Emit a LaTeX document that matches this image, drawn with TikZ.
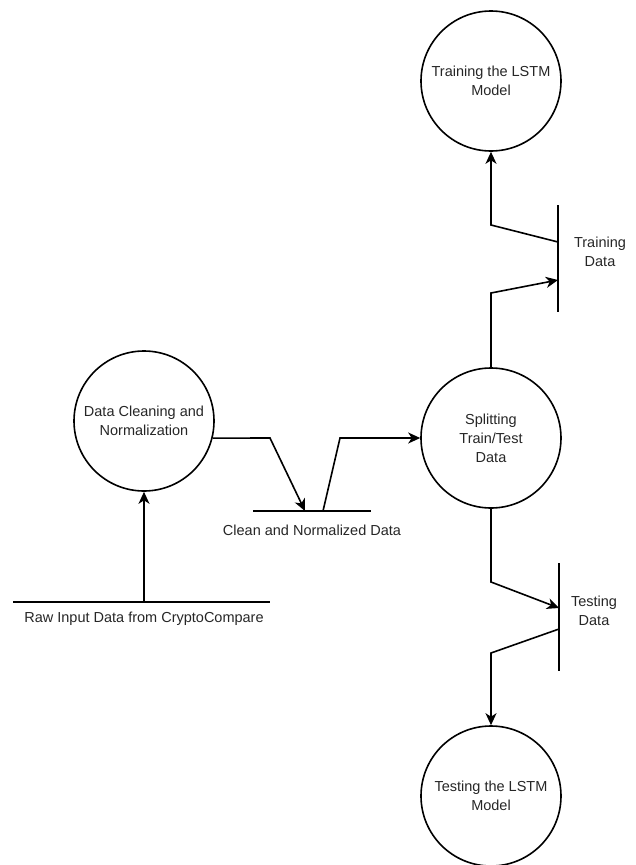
\documentclass[tikz,border=0pt]{standalone}
\usepackage{fontspec}
\setmainfont{Liberation Sans}
\usetikzlibrary{arrows.meta}
\begin{document}
\begin{tikzpicture}[x=1pt,y=-1pt,
  txt/.style={font=\fontsize{14.5}{19}\selectfont, text=black!85, align=center, inner sep=0},
  proc/.style={circle, draw, line width=1.6pt, minimum size=140pt, inner sep=0, txt},
  storeline/.style={line width=1.6pt},
  flow/.style={line width=1.6pt, -{Stealth[length=12pt,width=11pt,inset=3.5pt]}},
  link/.style={line width=1.6pt}]
\useasboundingbox (0,0) rectangle (636,865);
% processes
\node[proc] (trn) at (491,81) {Training the LSTM\\Model};
\node[proc] (spl) at (491,438) {Splitting\\Train/Test\\Data};
\node[proc] (tst) at (491,796) {Testing the LSTM\\Model};
\node[proc] (cln) at (144,421) {Data Cleaning and\\Normalization};
% data stores
\coordinate (trdT) at (558,205); \coordinate (trdB) at (558,312);
\draw[storeline] (trdT) -- (trdB);
\node[txt] (trdL) at (600,252) {Training\\Data};
\coordinate (tsdT) at (559,563); \coordinate (tsdB) at (559,671);
\draw[storeline] (tsdT) -- (tsdB);
\node[txt] (tsdL) at (594,611) {Testing\\Data};
\coordinate (cndL) at (253,511); \coordinate (cndR) at (371,511);
\draw[storeline] (cndL) -- (cndR);
\node[txt] (cndT) at (312,530) {Clean and Normalized Data};
\coordinate (rawL) at (13,602); \coordinate (rawR) at (270,602);
\draw[storeline] (rawL) -- (rawR);
\node[txt] (rawT) at (144,619) {Raw Input Data from CryptoCompare};
% bend and contact points
\coordinate (rawP) at (144,602);
\coordinate (c1) at (270,438);
\coordinate (cndIn) at (305,511);
\coordinate (cndOut) at (323,511);
\coordinate (c2) at (340,438);
\coordinate (s1) at (491,293);
\coordinate (trdIn) at (558,280);
\coordinate (trdOut) at (558,242);
\coordinate (s2) at (491,225);
\coordinate (s3) at (491,582);
\coordinate (tsdIn) at (559,608);
\coordinate (tsdOut) at (559,629);
\coordinate (s4) at (491,653);
% flows
\draw[flow] (rawP) -- (cln.south);
\draw[flow] (cln.-14) -- (c1) -- (cndIn);
\draw[flow] (cndOut) -- (c2) -- (spl.west);
\draw[flow] (spl.north) -- (s1) -- (trdIn);
\draw[flow] (trdOut) -- (s2) -- (trn.south);
\draw[flow] (spl.south) -- (s3) -- (tsdIn);
\draw[flow] (tsdOut) -- (s4) -- (tst.north);
\end{tikzpicture}
\end{document}
